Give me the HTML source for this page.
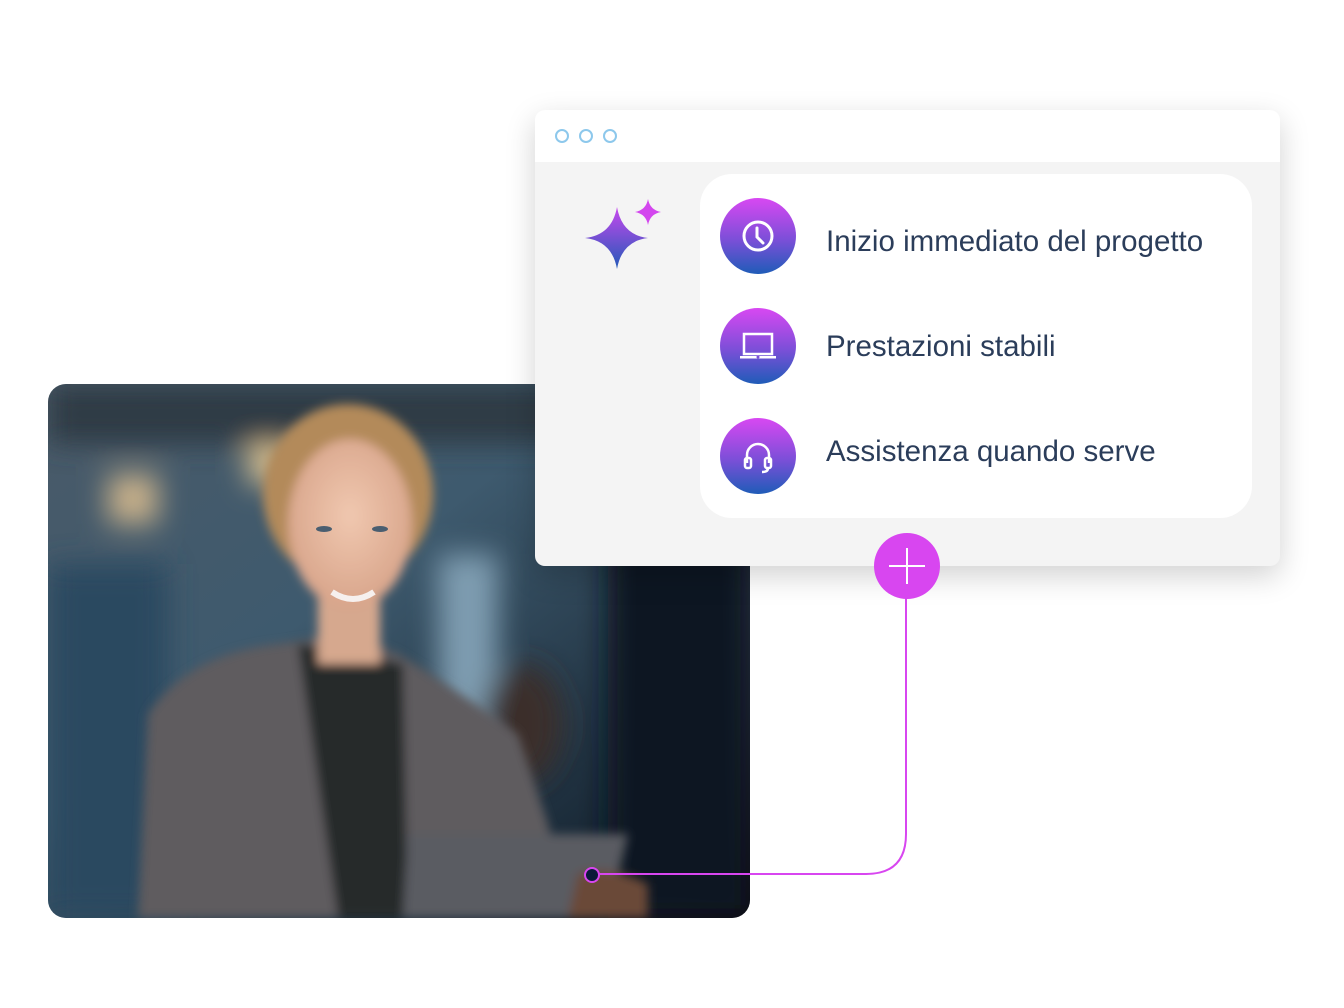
<!DOCTYPE html>
<html><head><meta charset="utf-8"><style>
html,body{margin:0;padding:0;background:#fff;}
body{width:1344px;height:1008px;position:relative;overflow:hidden;font-family:"Liberation Sans",sans-serif;}
.photo{position:absolute;left:48px;top:384px;width:702px;height:534px;border-radius:18px;overflow:hidden;}
.win{position:absolute;left:535px;top:110px;width:745px;height:456px;border-radius:10px;background:#f4f4f4;box-shadow:0 10px 30px rgba(0,0,0,0.18);overflow:hidden;}
.hdr{position:absolute;left:0;top:0;right:0;height:52px;background:#fff;}
.dot{position:absolute;top:19px;width:10px;height:10px;border:2px solid #8dc8ec;border-radius:50%;}
.card{position:absolute;left:165px;top:64px;width:552px;height:344px;background:#fff;border-radius:32px;}
.ic{position:absolute;left:20px;width:76px;height:76px;border-radius:50%;background:linear-gradient(#d848f2,#7b4fd8 55%,#1f5cb8);}
.ic svg{position:absolute;left:0;top:0;}
.tx{position:absolute;left:126px;font-size:29.5px;color:#2b3d5a;white-space:nowrap;}
</style></head><body>
<div class="photo">
<svg width="702" height="534" viewBox="0 0 702 534">
<defs>
<linearGradient id="bg" x1="0" y1="0" x2="1" y2="1"><stop offset="0" stop-color="#4a5a68"/><stop offset="0.4" stop-color="#3e5a6e"/><stop offset="0.8" stop-color="#1a2a38"/><stop offset="1" stop-color="#05080f"/></linearGradient>
<filter id="b"><feGaussianBlur stdDeviation="14"/></filter>
<filter id="b2"><feGaussianBlur stdDeviation="5"/></filter>
<radialGradient id="face" cx="0.5" cy="0.45" r="0.55"><stop offset="0" stop-color="#f0c8b0"/><stop offset="1" stop-color="#d8a48a"/></radialGradient>
</defs>
<rect width="702" height="534" fill="url(#bg)"/>
<g filter="url(#b)">
<rect x="0" y="0" width="702" height="60" fill="#2f3b44"/>
<rect x="60" y="90" width="50" height="50" fill="#c7b08a"/>
<rect x="200" y="60" width="40" height="40" fill="#d8c090"/>
<rect x="390" y="170" width="60" height="330" fill="#7e9cb0"/>
<rect x="0" y="180" width="120" height="354" fill="#2c4a60"/>
<rect x="560" y="150" width="142" height="384" fill="#0a1520"/>
<ellipse cx="475" cy="340" rx="40" ry="60" fill="#3a2e2a"/>
</g>
<g filter="url(#b2)">
<path d="M90 534 L100 330 Q140 270 230 260 L300 250 L350 270 Q400 300 470 350 L500 440 L520 534 Z" fill="#5e5c5e"/>
<path d="M250 260 L290 534 L360 534 L355 280 Z" fill="#262a2c"/>
<ellipse cx="300" cy="110" rx="85" ry="90" fill="#b38a5a"/>
<rect x="270" y="190" width="62" height="90" fill="#d6a88e"/>
<ellipse cx="302" cy="140" rx="62" ry="85" fill="url(#face)"/>
<path d="M360 450 L580 450 L560 534 L355 534 Z" fill="#5a5c62"/>
<path d="M530 490 Q560 480 600 500 L600 534 L520 534 Z" fill="#6a4a38"/>
</g>
<ellipse cx="276" cy="145" rx="8" ry="3" fill="#4a5e70"/>
<ellipse cx="332" cy="145" rx="8" ry="3" fill="#4a5e70"/>
<path d="M284 208 Q305 222 326 208" stroke="#f6f0ee" stroke-width="6" fill="none"/>
</svg>
</div>
<div class="win">
<div class="hdr"><div class="dot" style="left:20px"></div><div class="dot" style="left:44px"></div><div class="dot" style="left:68px"></div></div>
<svg style="position:absolute;left:45px;top:85px" width="90" height="80" viewBox="0 0 90 80">
<defs><linearGradient id="sg" x1="0" y1="0" x2="0" y2="1"><stop offset="0" stop-color="#c748ee"/><stop offset="1" stop-color="#2159b8"/></linearGradient></defs>
<path d="M37 12 Q42 40 68 43 Q42 46 37 74 Q32 46 5 43 Q32 40 37 12Z" fill="url(#sg)"/>
<path d="M68 4 Q70 15 81 17 Q70 19 68 30 Q66 19 55 17 Q66 15 68 4Z" fill="#d346ee"/>
</svg>
<div class="card">
<div class="ic" style="top:24px"><svg width="76" height="76"><circle cx="38" cy="38" r="14" fill="none" stroke="#fff" stroke-width="3"/><path d="M37 30 L37 39 L43 45" fill="none" stroke="#fff" stroke-width="3" stroke-linecap="round"/></svg></div>
<div class="tx" style="top:51px">Inizio immediato del progetto</div>
<div class="ic" style="top:134px"><svg width="76" height="76"><rect x="24" y="26" width="28" height="20" fill="none" stroke="#fff" stroke-width="2.5"/><rect x="20" y="48" width="36" height="2.5" fill="#fff"/><circle cx="38" cy="49" r="1.5" fill="#7b4fd8"/></svg></div>
<div class="tx" style="top:156px">Prestazioni stabili</div>
<div class="ic" style="top:244px"><svg width="76" height="76"><path d="M27 45 V37 A11 11 0 0 1 49 37 V45" fill="none" stroke="#fff" stroke-width="2.5"/><rect x="25" y="40" width="6" height="10" rx="2" fill="none" stroke="#fff" stroke-width="2.5"/><rect x="45" y="40" width="6" height="10" rx="2" fill="none" stroke="#fff" stroke-width="2.5"/><path d="M48 50 Q48 54 42 54" fill="none" stroke="#fff" stroke-width="2.5"/></svg></div>
<div class="tx" style="top:261px">Assistenza quando serve</div>
</div>
</div>
<svg style="position:absolute;left:0;top:0" width="1344" height="1008">
<path d="M906 566 V834 Q906 874 866 874 H598" fill="none" stroke="#d846f0" stroke-width="2"/>
<circle cx="592" cy="875" r="7" fill="#0b1a3a" stroke="#d846f0" stroke-width="2"/>
<circle cx="907" cy="566" r="33" fill="#d846f0"/>
<path d="M907 548 V584 M889 566 H925" stroke="#fff" stroke-width="2"/>
</svg>
</body></html>
